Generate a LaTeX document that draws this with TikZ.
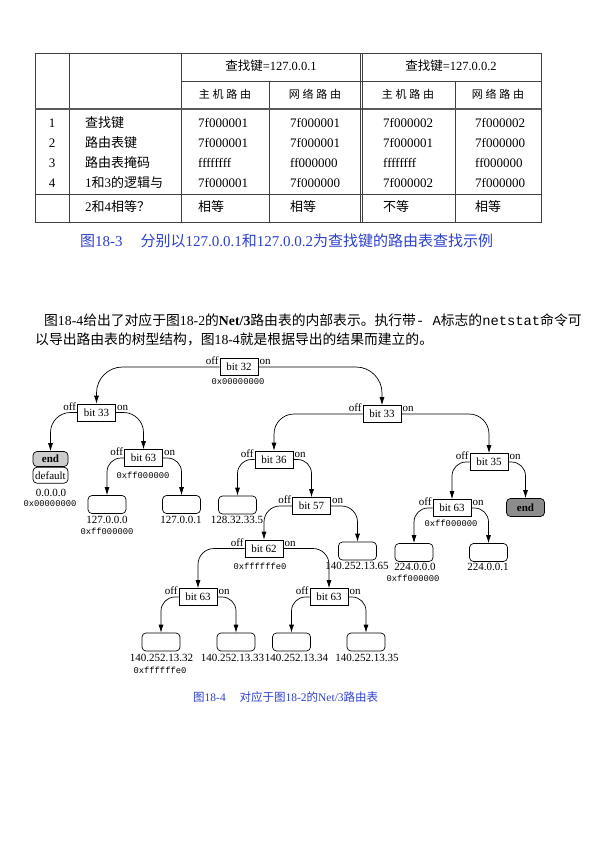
\documentclass[tikz,border=0pt]{standalone}
\usepackage{fontspec}
\setmainfont{Liberation Serif}
\setmonofont{Liberation Mono}
\newfontfamily\cjk{Noto Sans CJK SC}
\newfontfamily\cjkwide[LetterSpace=25]{Noto Sans CJK SC}
\usetikzlibrary{arrows.meta}
\definecolor{capblue}{RGB}{45,65,205}
\definecolor{endlight}{RGB}{205,205,205}
\definecolor{enddark}{RGB}{140,140,140}
\newcommand{\zh}[1]{{\cjk #1}}

\begin{document}
\begin{tikzpicture}[
        x=1pt, y=-1pt, % координаты в пикселях страницы
        rule/.style = {draw=black!75, line width=0.6pt},
        thick rule/.style = {draw=black!65, line width=2.2pt},
        cell/.style = {inner sep=0pt, anchor=west, font=\fontsize{13}{15}\selectfont},
        head/.style = {inner sep=0pt, font=\fontsize{12.5}{15}\selectfont},
        subhead/.style = {inner sep=0pt, font=\fontsize{11}{13}\selectfont\cjkwide},
        figcap/.style = {inner sep=0pt, anchor=west, text=capblue},
        para/.style = {inner sep=0pt, anchor=west, font=\fontsize{13.8}{16}\selectfont},
        bitbox/.style = {draw, line width=0.7pt, minimum width=38pt, minimum height=17pt, inner sep=1pt, font=\fontsize{11}{12}\selectfont}, % узел дерева
        leaf/.style = {draw, line width=0.7pt, rounded corners=4pt, minimum width=38pt, minimum height=18pt, inner sep=0pt}, % лист
        flag/.style = {inner sep=1pt, font=\fontsize{11}{12}\selectfont},
        addr/.style = {inner sep=0pt, font=\fontsize{11}{12}\selectfont},
        mask/.style = {inner sep=0pt, font=\fontsize{8.8}{10}\selectfont\ttfamily},
        link/.style = {draw, line width=0.7pt, -{Latex[length=8pt,width=5pt]}},
    ]
    \fill[white] (0,0) rectangle (595,842);
    \useasboundingbox (0,0) rectangle (595,842);

    % таблица
    \draw[rule] (35,53) rectangle (541,222);
    \draw[rule] (69,53) -- (69,222);
    \draw[rule] (181,53) -- (181,222);
    \draw[rule] (269,81) -- (269,222);
    \draw[rule] (455,81) -- (455,222);
    \draw[rule] (181,81) -- (541,81);
    \draw[rule] (35,194) -- (541,194);
    \draw[thick rule] (35,109) -- (541,109);
    \draw[rule] (359.8,53) -- (359.8,222);
    \draw[rule] (362.2,53) -- (362.2,222);

    \node[head] (k1) at (271,66) {\zh{查找键}=127.0.0.1};
    \node[head] (k2) at (451,66) {\zh{查找键}=127.0.0.2};
    \node[subhead] (s1) at (225,94) {主机路由};
    \node[subhead] (s2) at (315,94) {网络路由};
    \node[subhead] (s3) at (408,94) {主机路由};
    \node[subhead] (s4) at (498,94) {网络路由};

    \foreach \r/\y/\lab/\a/\b/\c/\d in {
            1/123/{\zh{查找键}}/7f000001/7f000001/7f000002/7f000002,
            2/143/{\zh{路由表键}}/7f000001/7f000001/7f000001/7f000000,
            3/163/{\zh{路由表掩码}}/ffffffff/ff000000/ffffffff/ff000000,
            4/183/{1\zh{和}3\zh{的逻辑与}}/7f000001/7f000000/7f000002/7f000000}{
        \node[cell, anchor=center] (n\r) at (52,\y) {\r};
        \node[cell] (t\r) at (85,\y) {\lab};
        \node[cell] (a\r) at (198,\y) {\a};
        \node[cell] (b\r) at (290,\y) {\b};
        \node[cell] (c\r) at (383,\y) {\c};
        \node[cell] (d\r) at (475,\y) {\d};
    }
    \node[cell] (t5) at (85,207) {2\zh{和}4\zh{相等？}};
    \node[cell] (a5) at (198,207) {\zh{相等}};
    \node[cell] (b5) at (290,207) {\zh{相等}};
    \node[cell] (c5) at (383,207) {\zh{不等}};
    \node[cell] (d5) at (475,207) {\zh{相等}};

    \node[figcap, font=\fontsize{15}{17}\selectfont] (cap3) at (80,241)
        {\zh{图}18-3\hspace{1.2em}\zh{分别以}127.0.0.1\zh{和}127.0.0.2\zh{为查找键的路由表查找示例}};

    % текст
    \node[para] (p1) at (44,320)
        {\zh{图}18-4\zh{给出了对应于图}18-2\zh{的}\textbf{Net/3}\zh{路由表的内部表示。执行带}\texttt{- A}\zh{标志的}\texttt{netstat}\zh{命令可}};
    \node[para] (p2) at (35,339)
        {\zh{以导出路由表的树型结构，图}18-4\zh{就是根据导出的结果而建立的。}};

    % дерево
    \node[bitbox] (b32) at (239,367) {bit 32};
    \node[bitbox] (b33l) at (96.5,412.5) {bit 33};
    \node[bitbox] (b33r) at (382,414) {bit 33};
    \node[bitbox] (b63a) at (143.5,458) {bit 63};
    \node[bitbox] (b36) at (274,459.5) {bit 36};
    \node[bitbox] (b35) at (489,462) {bit 35};
    \node[bitbox] (b57) at (311.5,506) {bit 57};
    \node[bitbox] (b63d) at (452,508) {bit 63};
    \node[bitbox] (b62) at (264,548.5) {bit 62};
    \node[bitbox] (b63b) at (198,597) {bit 63};
    \node[bitbox] (b63c) at (329,597) {bit 63};

    \node[leaf, minimum width=35pt, minimum height=15pt, fill=endlight, font=\fontsize{11}{12}\selectfont] (endl) at (50.5,459) {\textbf{end}};
    \node[leaf, minimum width=35pt, minimum height=16pt, anchor=north, font=\fontsize{11}{12}\selectfont] (dflt) at (endl.south) {default};
    \node[leaf, fill=enddark, font=\fontsize{11}{12}\selectfont] (endr) at (525.5,507.5) {\textbf{end}};

    \node[leaf] (l1) at (107,504.5) {};
    \node[leaf] (l2) at (181.5,504.5) {};
    \node[leaf] (l3) at (237.5,505) {};
    \node[leaf] (l4) at (357.5,551) {};
    \node[leaf] (l5) at (161,642) {};
    \node[leaf] (l6) at (236,642) {};
    \node[leaf] (l7) at (291.5,642) {};
    \node[leaf] (l8) at (366,642) {};
    \node[leaf] (l9) at (414,552.5) {};
    \node[leaf] (l10) at (488.5,552.5) {};

    \foreach \n in {b32,b33l,b33r,b63a,b36,b35,b57,b63d,b62,b63b,b63c} {
        \node[flag, anchor=south east] (\n-off) at ([yshift=1pt]\n.west) {off};
        \node[flag, anchor=south west] (\n-on) at ([yshift=1pt]\n.east) {on};
    }

    \foreach \p/\c/\s/\r in {b32/b33l/west/26, b32/b33r/east/26,
            b33l/endl/west/20, b33l/b63a/east/20, b33r/b36/west/20, b33r/b35/east/20,
            b63a/l1/west/14, b63a/l2/east/14, b36/l3/west/14, b36/b57/east/14,
            b57/b62/west/16, b57/l4/east/16, b62/b63b/west/16, b62/b63c/east/16,
            b63b/l5/west/14, b63b/l6/east/14, b63c/l7/west/14, b63c/l8/east/14,
            b35/b63d/west/14, b35/endr/east/14, b63d/l9/west/14, b63d/l10/east/14}
        \draw[link, rounded corners=\r pt] (\p.\s) -| (\c.north);

    \node[mask] (m32) at (238,382) {0x00000000};
    \node[addr] (a0) at (51,493) {0.0.0.0};
    \node[mask] (m0) at (50,504) {0x00000000};
    \node[mask] (m63a) at (143,475) {0xff000000};
    \node[addr] (a1) at (107,520) {127.0.0.0};
    \node[mask] (m1) at (107,531) {0xff000000};
    \node[addr] (a2) at (181,520) {127.0.0.1};
    \node[addr] (a3) at (237,520) {128.32.33.5};
    \node[mask] (m62) at (260,566) {0xffffffe0};
    \node[addr] (a4) at (357,566) {140.252.13.65};
    \node[mask] (m63d) at (451,523) {0xff000000};
    \node[addr] (a9) at (415,567) {224.0.0.0};
    \node[mask] (m9) at (413,578) {0xff000000};
    \node[addr] (a10) at (488,567) {224.0.0.1};
    \node[addr] (a5) at (161.5,658) {140.252.13.32};
    \node[mask] (m5) at (160,670) {0xffffffe0};
    \node[addr] (a6) at (232.5,658) {140.252.13.33};
    \node[addr] (a7) at (296.5,658) {140.252.13.34};
    \node[addr] (a8) at (367,658) {140.252.13.35};

    \node[figcap, font=\fontsize{11.5}{13}\selectfont] (cap4) at (193,697)
        {\zh{图}18-4\hspace{1.2em}\zh{对应于图}18-2\zh{的}Net/3\zh{路由表}};
\end{tikzpicture}
\end{document}
